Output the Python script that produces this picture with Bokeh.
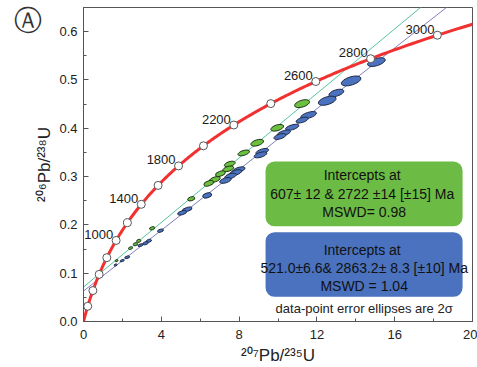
import numpy as np
from bokeh.plotting import figure
from bokeh.models import (Label, BoxAnnotation, FixedTicker, Range1d, NumeralTickFormatter,
                          LinearAxis, CustomJSTickFormatter)
from bokeh.core.properties import value
from bokeh.embed import file_html
from bokeh.resources import INLINE

# decay constants (per year)
L238 = 1.55125e-10
L235 = 9.8485e-10

# concordia age markers (Ma) and labelled ages
marker_ages = [200, 400, 600, 800, 1000, 1200, 1400, 1600, 1800, 2000, 2200, 2400, 2600, 2800, 3000]
label_ages = [1000, 1400, 1800, 2200, 2600, 2800, 3000]

# discordia intercepts (Ma)
green_intercepts = [607, 2722]
blue_intercepts = [521.0, 2863.2]

# green group ellipses: 207Pb/235U, 206Pb/238U, width (207/235 units), height (206/238 units)
green_x = [11.24, 9.96, 8.93, 8.24, 7.52, 7.44, 7.04, 6.75, 6.44, 5.54, 3.53, 2.84, 2.67, 2.42, 1.70]
green_y = [0.451, 0.401, 0.370, 0.349, 0.326, 0.316, 0.306, 0.294, 0.286, 0.254, 0.193, 0.167, 0.160, 0.152, 0.126]
green_w = [0.80, 0.68, 0.68, 0.62, 0.58, 0.58, 0.52, 0.58, 0.52, 0.38, 0.28, 0.22, 0.22, 0.22, 0.16]
green_h = [0.014, 0.012, 0.012, 0.010, 0.010, 0.010, 0.010, 0.010, 0.010, 0.008, 0.006, 0.006, 0.006, 0.005, 0.004]

# blue group ellipses
blue_x = [15.06, 13.76, 13.00, 12.53, 11.57, 11.24, 10.73, 10.30, 10.10, 9.19, 9.10, 7.98, 7.81, 7.56, 7.30,
          6.36, 5.33, 5.07, 3.96, 3.36, 3.19, 2.93, 2.25, 1.99, 1.65]
blue_y = [0.537, 0.498, 0.473, 0.457, 0.427, 0.417, 0.402, 0.390, 0.383, 0.352, 0.345, 0.314, 0.308, 0.301, 0.292,
          0.261, 0.232, 0.225, 0.188, 0.167, 0.162, 0.158, 0.133, 0.126, 0.117]
blue_w = [0.95, 1.05, 0.80, 0.95, 0.85, 0.65, 0.72, 0.72, 0.65, 0.68, 0.68, 0.68, 0.68, 0.62, 0.62,
          0.48, 0.52, 0.48, 0.32, 0.28, 0.28, 0.28, 0.26, 0.22, 0.16]
blue_h = [0.015, 0.017, 0.013, 0.016, 0.012, 0.010, 0.010, 0.010, 0.010, 0.010, 0.010, 0.010, 0.010, 0.010, 0.010,
          0.010, 0.008, 0.008, 0.006, 0.006, 0.006, 0.005, 0.005, 0.004, 0.004]

x_ticks = [0, 4, 8, 12, 16, 20]
y_ticks = [0.0, 0.1, 0.2, 0.3, 0.4, 0.5, 0.6]

green_text = ["Intercepts  at", "607\u00b1 12 & 2722 \u00b114  [\u00b115] Ma", "MSWD= 0.98"]
blue_text = ["Intercepts  at", "521.0\u00b16.6& 2863.2\u00b1 8.3 [\u00b110] Ma", "MSWD = 1.04"]
note_text = "data-point error ellipses are 2\u03c3"
panel_letter = "\u24b6"


def conc(t_ma):
    t = np.asarray(t_ma, dtype=float) * 1e6
    return np.exp(L235 * t) - 1.0, np.exp(L238 * t) - 1.0


FONT = value("Liberation Sans")

p = figure(width=477, height=367, output_backend="svg", toolbar_location=None,
           x_range=Range1d(0, 20), y_range=Range1d(0, 0.65),
           min_border_left=83, min_border_right=5, min_border_top=7, min_border_bottom=44)
p.grid.visible = False
p.background_fill_color = "white"
p.border_fill_color = "white"
p.outline_line_color = "#555555"
p.outline_line_width = 1

for ax in (p.xaxis[0], p.yaxis[0]):
    ax.axis_line_color = "#555555"
    ax.major_tick_line_color = "#555555"
    ax.minor_tick_line_color = "#555555"
    ax.major_tick_in = 5
    ax.major_tick_out = 0
    ax.minor_tick_in = 3
    ax.minor_tick_out = 0
    ax.major_label_text_font = "Liberation Sans"
    ax.major_label_text_font_size = "13px"
    ax.major_label_text_color = "#222222"
    ax.axis_label_text_font = "Liberation Sans"
    ax.axis_label_text_font_size = "17px"
    ax.axis_label_text_font_style = "normal"
    ax.axis_label_text_color = "#222222"

p.xaxis.ticker = FixedTicker(ticks=x_ticks, minor_ticks=list(range(0, 21, 2)))
p.yaxis.ticker = FixedTicker(ticks=y_ticks, minor_ticks=[i * 0.05 for i in range(14)])
p.yaxis.formatter = NumeralTickFormatter(format="0.0")
p.xaxis.axis_label = "\u00b2\u2070\u2077Pb/\u00b2\u00b3\u2075U"
p.yaxis.axis_label = "\u00b2\u2070\u2076Pb/\u00b2\u00b3\u2078U"
p.xaxis.major_label_standoff = 8
p.xaxis.axis_label_standoff = 4
p.yaxis.major_label_standoff = 6
p.yaxis.axis_label_standoff = 2

# panel letter, drawn as the single label of an outer, line-less left axis
letter_axis = LinearAxis(ticker=FixedTicker(ticks=[0.623], minor_ticks=[]),
                         formatter=CustomJSTickFormatter(code="return '%s';" % panel_letter),
                         axis_line_color=None, major_tick_line_color=None, minor_tick_line_color=None,
                         major_tick_in=0, major_tick_out=0, minor_tick_in=0, minor_tick_out=0,
                         major_label_standoff=-9, major_label_text_font="DejaVu Sans",
                         major_label_text_font_size="28px", major_label_text_color="#333333")
p.add_layout(letter_axis, "left")

# discordia lines (through the two intercepts, extended)
def discordia(ints):
    (x1, x2), (y1, y2) = conc(ints)
    slope = (y2 - y1) / (x2 - x1)
    xs = np.array([0.0, 20.0])
    return xs, y1 + slope * (xs - x1)

gx, gy = discordia(green_intercepts)
bx, by = discordia(blue_intercepts)
p.line(gx, gy, line_color="#55c49a", line_width=1)
p.line(bx, by, line_color="#8080c0", line_width=1)

# ellipses
p.ellipse(x=blue_x, y=blue_y, width=blue_w, height=blue_h, angle=0.3,
          fill_color="#4a72be", line_color="#1f2c48", line_width=1)
p.ellipse(x=green_x, y=green_y, width=green_w, height=green_h, angle=0.3,
          fill_color="#6cc040", line_color="#1f3318", line_width=1)

# concordia curve
t_curve = np.linspace(0, 3250, 400)
cx, cy = conc(t_curve)
p.line(cx, cy, line_color="#f23030", line_width=3)
mx, my = conc(marker_ages)
p.scatter(mx, my, size=8, fill_color="white", line_color="#555555", line_width=1)
lx, ly = conc(label_ages)
p.text(lx, ly, text=[str(a) for a in label_ages], x_offset=-3, y_offset=-6,
       text_align="right", text_baseline="middle", text_font=FONT,
       text_font_size="13px", text_color="#1a1a1a")

# result boxes
p.add_layout(BoxAnnotation(left=9.36, right=19.49, bottom=0.197, top=0.331,
                           fill_color="#6cbb45", fill_alpha=1.0, line_color=None,
                           border_radius=9, level="underlay"))
p.add_layout(BoxAnnotation(left=9.36, right=19.49, bottom=0.051, top=0.185,
                           fill_color="#4a72be", fill_alpha=1.0, line_color=None,
                           border_radius=9, level="underlay"))

for txt, yy in zip(green_text, [0.304, 0.263, 0.226]):
    p.add_layout(Label(x=14.43, y=yy, text=txt, text_align="center", text_baseline="middle",
                       text_font="Liberation Sans", text_font_size="14px", text_color="#111111",
                       level="overlay"))
for txt, yy in zip(blue_text, [0.148, 0.111, 0.074]):
    p.add_layout(Label(x=14.43, y=yy, text=txt, text_align="center", text_baseline="middle",
                       text_font="Liberation Sans", text_font_size="14px", text_color="#111111",
                       level="overlay"))
p.add_layout(Label(x=14.43, y=0.027, text=note_text, text_align="center", text_baseline="middle",
                   text_font="Liberation Sans", text_font_size="13px", text_color="#222222",
                   level="overlay"))

open("out.html", "w").write(file_html(p, INLINE))
